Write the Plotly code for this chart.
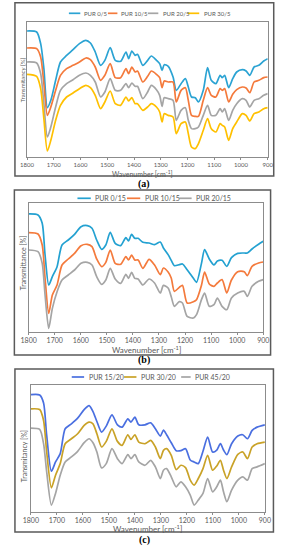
import plotly.graph_objects as go

W, H = 288, 550

# ---------------- Panel (a) ----------------
wn_a = [1800, 1764, 1749, 1737, 1724, 1711, 1693, 1675, 1652, 1628, 1604, 1580, 1563, 1545, 1525,
        1509, 1489, 1470, 1450, 1430, 1420, 1408, 1396, 1387, 1367, 1349, 1335, 1316, 1304, 1295,
        1287, 1272, 1254, 1242, 1224, 1208, 1197, 1185, 1171, 1159, 1141, 1125, 1111, 1094, 1078,
        1070, 1061, 1046, 1031, 1016, 995, 981, 967, 951, 933, 915, 900]
a_pur_0_5 = [378, 375, 340, 265, 148, 170, 230, 285, 305, 322, 340, 350, 342, 315, 275, 290, 328, 290,
             287, 315, 295, 318, 305, 308, 275, 290, 303, 290, 280, 260, 277, 272, 240, 200, 220, 235,
             210, 180, 178, 165, 200, 268, 230, 220, 245, 238, 245, 208, 235, 255, 262, 258, 245, 270,
             275, 288, 295]
a_pur_10_5 = [327, 325, 300, 220, 125, 150, 200, 245, 265, 275, 285, 297, 292, 270, 230, 245, 280, 238,
              238, 265, 250, 270, 255, 258, 225, 242, 258, 248, 238, 208, 228, 225, 225, 165, 200, 208,
              170, 125, 122, 122, 170, 208, 185, 180, 205, 200, 205, 165, 188, 202, 210, 207, 193, 225,
              230, 238, 240]
a_pur_20_5 = [285, 282, 250, 160, 60, 90, 150, 200, 220, 232, 245, 252, 245, 225, 180, 195, 235, 200,
              200, 220, 208, 222, 212, 212, 175, 195, 215, 202, 185, 152, 178, 175, 170, 110, 140, 148,
              110, 85, 85, 90, 125, 155, 125, 125, 145, 135, 145, 110, 140, 160, 175, 170, 150, 170,
              175, 185, 190]
a_pur_30_5 = [248, 242, 205, 115, 18, 50, 110, 155, 180, 192, 205, 215, 208, 185, 145, 165, 198, 160,
              155, 180, 168, 178, 160, 160, 140, 150, 160, 150, 135, 105, 130, 125, 120, 70, 100, 105,
              70, 30, 25, 40, 80, 115, 85, 75, 100, 95, 90, 50, 85, 105, 130, 125, 108, 130, 135, 145,
              148]
names_a = ["PUR 0/5", "PUR 10/5", "PUR 20/5", "PUR 30/5"]
colors_a = ["#2ba3d3", "#f47a3c", "#a5a5a5", "#ffc000"]

# ---------------- Panel (b) ----------------
wn_b = [1800, 1764, 1748, 1737, 1723, 1709, 1691, 1672, 1648, 1624, 1599, 1575, 1557, 1539, 1520,
        1504, 1487, 1468, 1447, 1427, 1417, 1405, 1393, 1380, 1362, 1338, 1317, 1295, 1283, 1265,
        1253, 1241, 1222, 1210, 1192, 1168, 1156, 1137, 1125, 1107, 1089, 1076, 1058, 1040, 1022,
        998, 973, 961, 943, 918, 900]
b_pur_0_15 = [353, 350, 325, 230, 140, 165, 195, 260, 275, 292, 315, 318, 310, 275, 247, 260, 298, 265,
              258, 282, 272, 292, 280, 280, 268, 266, 261, 269, 251, 231, 214, 198, 201, 203, 186, 160,
              148, 205, 246, 218, 200, 212, 214, 196, 222, 235, 236, 236, 248, 262, 271]
b_pur_10_15 = [297, 293, 260, 160, 55, 110, 140, 200, 218, 235, 258, 262, 255, 218, 195, 208, 245, 205,
               202, 225, 215, 230, 215, 215, 190, 217, 200, 171, 191, 179, 161, 121, 133, 139, 86, 90,
               96, 139, 179, 143, 136, 146, 156, 116, 155, 180, 180, 168, 196, 206, 209]
b_pur_20_15 = [245, 240, 205, 110, 10, 70, 120, 155, 170, 185, 205, 208, 200, 165, 142, 155, 190, 158,
               145, 172, 160, 178, 160, 158, 140, 158, 146, 116, 139, 131, 105, 76, 90, 86, 46, 41, 51,
               96, 116, 76, 81, 101, 76, 66, 101, 116, 121, 106, 136, 151, 156]
names_b = ["PUR 0/15", "PUR 10/15", "PUR 20/15"]
colors_b = ["#23a1d1", "#f47a3c", "#a5a5a5"]

# ---------------- Panel (c) ----------------
wn_c = [1800, 1766, 1751, 1739, 1721, 1705, 1687, 1668, 1644, 1620, 1595, 1576, 1561, 1546, 1528,
        1510, 1488, 1467, 1449, 1427, 1415, 1400, 1385, 1361, 1339, 1321, 1302, 1290, 1278, 1260,
        1241, 1223, 1205, 1187, 1172, 1156, 1138, 1120, 1101, 1085, 1071, 1059, 1046, 1028, 1004,
        985, 967, 949, 930, 900]
c_pur_15_20 = [353, 352, 328, 230, 122, 150, 175, 250, 265, 282, 308, 320, 302, 272, 240, 258, 292, 262,
               255, 280, 270, 285, 262, 262, 268, 250, 228, 246, 232, 208, 184, 184, 190, 156, 150, 145,
               182, 225, 180, 186, 205, 186, 172, 205, 228, 232, 220, 245, 255, 262]
c_pur_30_20 = [310, 308, 275, 180, 72, 110, 145, 205, 220, 235, 260, 270, 265, 235, 195, 212, 250, 212,
               200, 232, 218, 232, 210, 205, 215, 195, 160, 185, 190, 170, 127, 140, 133, 95, 80, 100,
               130, 170, 125, 138, 155, 125, 100, 135, 173, 180, 160, 195, 205, 210]
c_pur_45_20 = [252, 248, 205, 120, 20, 55, 110, 150, 165, 182, 208, 220, 208, 180, 132, 145, 190, 160,
               145, 172, 160, 172, 150, 140, 155, 135, 100, 125, 130, 105, 75, 90, 75, 50, 20, 35, 55,
               100, 60, 75, 95, 60, 30, 65, 95, 105, 95, 130, 135, 145]
names_c = ["PUR 15/20", "PUR 30/20", "PUR 45/20"]
colors_c = ["#4a6fe0", "#c9a227", "#a5a5a5"]

x_ticks = [1800, 1700, 1600, 1500, 1400, 1300, 1200, 1100, 1000, 900]
x_title = "Wavenumber [cm<sup>-1</sup>]"
y_titles = ["Transmitancy [%]", "Transmittance [%]", "Transmitancy [%]"]
panel_labels = ["(a)", "(b)", "(c)"]


def px(x):
    return x / W


def py(y):
    return 1 - y / H


panels = [
    dict(wn=wn_a, series=[a_pur_0_5, a_pur_10_5, a_pur_20_5, a_pur_30_5], names=names_a, colors=colors_a,
         plot=(20, 22, 273, 157), box=(7.3, 2.7, 279.3, 176), yr=405, fs=6,
         leg_y=13.3, leg=[(64, 76, 78), (105, 115, 117), (147, 158, 161), (189, 201, 204)],
         ytitle=(15, 80), xtitle=(141, 173), lab=(143, 183.5)),
    dict(wn=wn_b, series=[b_pur_0_15, b_pur_10_15, b_pur_20_15], names=names_b, colors=colors_b,
         plot=(21.7, 203.3, 268.3, 331.7), box=(6.7, 190, 276, 355), yr=385, fs=7,
         leg_y=198.3, leg=[(73, 87, 89), (125, 139, 142), (180, 193, 195)],
         ytitle=(16, 263), xtitle=(146, 349.5), lab=(143, 360.5)),
    dict(wn=wn_c, series=[c_pur_15_20, c_pur_30_20, c_pur_45_20], names=names_c, colors=colors_c,
         plot=(24, 385, 270, 511.7), box=(7.3, 369, 279, 532), yr=382, fs=7,
         leg_y=377, leg=[(67, 80, 83), (122, 135, 138), (182, 192, 194)],
         ytitle=(17, 456), xtitle=(147, 528.5), lab=(143, 539.5)),
]

fig = go.Figure()
shapes = []
annotations = []
FONT = "Lato, 'Open Sans', sans-serif"
TXT = "#595959"

for i, p in enumerate(panels):
    k = "" if i == 0 else str(i + 1)
    for vals, name, col in zip(p["series"], p["names"], p["colors"]):
        fig.add_trace(go.Scatter(x=p["wn"], y=vals, name=name, mode="lines",
                                 line=dict(color=col, width=1.7, shape="spline", smoothing=0.7),
                                 xaxis="x" + k, yaxis="y" + k, showlegend=False))
    x0, y0, x1, y1 = p["plot"]
    fig.layout["xaxis" + k] = dict(domain=[px(x0), px(x1)], anchor="y" + k, range=[1800, 900],
                                   tickvals=x_ticks, showgrid=False, zeroline=False,
                                   showline=True, mirror=True, linecolor="#8c8c8c", linewidth=1,
                                   ticks="outside", ticklen=2, tickcolor="#8c8c8c",
                                   tickfont=dict(size=p["fs"], color=TXT, family=FONT))
    fig.layout["yaxis" + k] = dict(domain=[py(y1), py(y0)], anchor="x" + k, range=[0, p["yr"]],
                                   showticklabels=False, showgrid=False, zeroline=False,
                                   showline=True, mirror=True, linecolor="#8c8c8c", linewidth=1,
                                   ticks="")
    bx0, by0, bx1, by1 = p["box"]
    shapes.append(dict(type="rect", xref="paper", yref="paper", x0=px(bx0), x1=px(bx1),
                       y0=py(by1), y1=py(by0), line=dict(color="#5a5a5a", width=1.5)))
    # legend
    for (lx0, lx1, tx), name, col in zip(p["leg"], p["names"], p["colors"]):
        shapes.append(dict(type="line", xref="paper", yref="paper", x0=px(lx0), x1=px(lx1),
                           y0=py(p["leg_y"]), y1=py(p["leg_y"]), line=dict(color=col, width=1.7)))
        annotations.append(dict(text=name, xref="paper", yref="paper", x=px(tx), y=py(p["leg_y"]),
                                xanchor="left", yanchor="middle", showarrow=False,
                                font=dict(size=p["fs"], color=TXT, family=FONT)))
    annotations.append(dict(text=y_titles[i], xref="paper", yref="paper", x=px(p["ytitle"][0]),
                            y=py(p["ytitle"][1]), textangle=-90, showarrow=False,
                            xanchor="center", yanchor="middle",
                            font=dict(size=p["fs"], color=TXT, family=FONT)))
    annotations.append(dict(text=x_title, xref="paper", yref="paper", x=px(p["xtitle"][0]),
                            y=py(p["xtitle"][1]), showarrow=False, xanchor="center", yanchor="middle",
                            font=dict(size=p["fs"] + 1, color=TXT, family=FONT)))
    annotations.append(dict(text="<b>" + panel_labels[i] + "</b>", xref="paper", yref="paper",
                            x=px(p["lab"][0]), y=py(p["lab"][1]), showarrow=False,
                            xanchor="center", yanchor="middle",
                            font=dict(size=10, color="#000000", family="'Liberation Serif', serif")))

fig.update_layout(width=W, height=H, margin=dict(l=0, r=0, t=0, b=0),
                  paper_bgcolor="white", plot_bgcolor="white", showlegend=False,
                  hovermode=False, shapes=shapes, annotations=annotations)

fig.write_html("out.html", config={"displayModeBar": False, "staticPlot": True},
               post_script="document.body.style.margin='0px';document.body.style.overflow='hidden';")
